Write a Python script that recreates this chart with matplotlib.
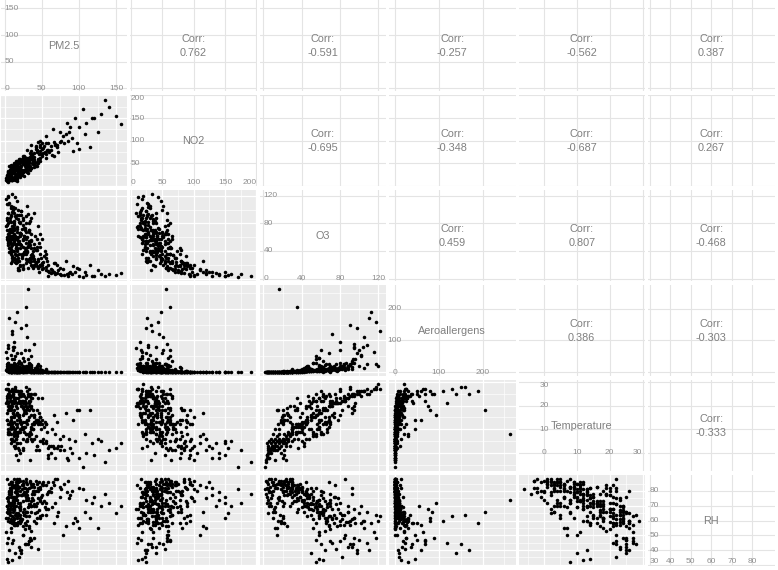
import matplotlib
matplotlib.use("Agg")
import matplotlib.pyplot as plt
import numpy as np

plt.rcParams['font.family'] = ['Liberation Sans', 'DejaVu Sans']

var_names = ["PM2.5", "NO2", "O3", "Aeroallergens", "Temperature", "RH"]

pm25 = [8, 5, 12, 15, 3, 10, 20, 6, 18, 9,
        25, 4, 13, 7, 22, 11, 16, 2, 28, 14,
        30, 8, 19, 5, 24, 10, 35, 6, 17, 12,
        40, 3, 21, 9, 27, 14, 7, 32, 16, 4,
        20, 30, 15, 25, 40, 12, 35, 18, 45, 22,
        28, 10, 50, 33, 16, 38, 24, 42, 14, 55,
        26, 19, 31, 47, 11, 36, 23, 52, 17, 29,
        44, 13, 37, 21, 58, 9, 34, 48, 27, 15,
        60, 80, 45, 100, 70, 35, 135, 55, 90, 150,
        40, 65, 120, 50, 75, 157, 30, 85, 58, 110,
        42, 95, 68, 125, 38, 78, 62, 105, 48, 72,
        33, 88, 56, 140, 46, 98, 82, 115, 66, 130,
        31, 28, 10, 15, 8, 20, 12, 18, 6, 25,
        5, 10, 14, 3, 20, 22, 18, 30, 26, 12,
        35, 16, 28, 9, 33, 14, 40, 21, 11, 27,
        19, 37, 7, 24, 45, 13, 31, 17, 23, 42,
        8, 29, 15, 36, 20, 50, 12, 26, 39, 6,
        34, 19, 48, 10, 25, 43, 16, 32, 53, 11,
        5, 8, 14, 4, 9, 18, 7, 13, 21, 3,
        64, 86, 76, 92, 58, 108, 70, 100, 118, 84,
        6, 15, 24, 10, 32, 4, 18, 28, 12, 38,
        9, 21, 44, 14, 26, 7, 34, 17, 3, 49,
        11, 23, 36, 8, 29, 15, 41, 5, 19, 52,
        13, 27, 10, 39, 20, 6, 33, 16, 46, 9,
        30, 12, 57, 22, 4, 35, 18, 25, 7, 43,
        14, 31, 54, 10, 20, 38, 8, 27, 62, 16,
        47, 3, 24, 11, 35, 19, 6, 29, 66, 13,
        40, 21, 9, 33, 17, 74, 5, 26, 45, 12,
        37, 22, 8, 50, 15, 28, 3, 42, 19, 11,
        68, 23, 7, 34, 16, 55, 10, 30, 2, 48]

no2 = [30, 12, 40, 18, 22, 45, 28, 26, 50, 14,
       58, 20, 15, 35, 24, 42, 10, 18, 32, 38,
       52, 28, 22, 8, 60, 34, 40, 24, 48, 16,
       58, 16, 50, 30, 32, 44, 25, 62, 20, 28,
       55, 42, 20, 62, 48, 40, 78, 25, 60, 54,
       38, 35, 95, 45, 48, 55, 60, 85, 18, 70,
       66, 28, 48, 90, 30, 62, 35, 72, 50, 40,
       80, 40, 50, 60, 78, 36, 72, 62, 52, 24,
       75, 95, 98, 130, 85, 90, 191, 110, 105, 155,
       58, 125, 150, 70, 120, 136, 80, 100, 80, 140,
       88, 150, 92, 120, 60, 110, 80, 170, 100, 75,
       50, 130, 95, 175, 70, 95, 115, 85, 65, 160,
       56, 62, 28, 55, 42, 38, 50, 32, 44, 66,
       25, 12, 40, 18, 22, 45, 38, 30, 50, 32,
       40, 42, 62, 28, 58, 12, 48, 45, 30, 55,
       42, 68, 24, 30, 50, 35, 62, 16, 58, 45,
       26, 48, 22, 60, 40, 82, 36, 22, 42, 20,
       64, 28, 78, 14, 48, 45, 40, 56, 88, 34,
       30, 40, 26, 32, 20, 56, 36, 48, 36, 24,
       68, 120, 100, 78, 95, 115, 90, 82, 150, 140,
       20, 38, 30, 45, 55, 15, 24, 62, 28, 48,
       35, 40, 76, 18, 58, 22, 44, 50, 10, 70,
       32, 26, 66, 40, 35, 46, 52, 25, 34, 84,
       20, 48, 14, 72, 42, 30, 38, 55, 60, 26,
       32, 48, 80, 24, 18, 68, 36, 62, 12, 50,
       42, 28, 74, 30, 20, 60, 22, 44, 88, 34,
       56, 14, 52, 16, 40, 60, 28, 46, 98, 38,
       64, 30, 46, 58, 22, 96, 20, 36, 54, 34,
       70, 26, 24, 66, 44, 40, 16, 82, 32, 28,
       90, 56, 18, 36, 26, 62, 36, 54, 12, 86]

o3 = [105, 118, 95, 88, 78, 72, 65, 110, 100, 92,
      85, 120, 80, 70, 98, 62, 75, 115, 90, 58,
      105, 68, 82, 95, 77, 122, 88, 60, 112, 74,
      95, 85, 66, 102, 70, 118, 55, 80, 92, 108,
      50, 40, 60, 35, 28, 55, 45, 30, 25, 65,
      38, 48, 20, 52, 42, 33, 58, 22, 36, 30,
      62, 26, 47, 18, 40, 55, 32, 24, 68, 28,
      42, 52, 35, 44, 20, 58, 30, 46, 60, 25,
      10, 5, 15, 4, 8, 20, 3, 12, 6, 5,
      18, 9, 4, 14, 7, 8, 25, 3, 11, 5,
      22, 10, 6, 12, 16, 14, 8, 2, 19, 12,
      28, 9, 17, 7, 10, 15, 25, 20, 22, 6,
      16, 35, 30, 22, 38, 18, 28, 12, 45, 14,
      55, 62, 50, 58, 64, 48, 55, 38, 62, 70,
      30, 58, 44, 82, 52, 90, 26, 66, 75, 40,
      50, 34, 88, 56, 28, 64, 46, 72, 36, 42,
      52, 58, 44, 64, 80, 22, 40, 74, 50, 62,
      24, 54, 36, 96, 46, 58, 34, 68, 32, 58,
      48, 36, 24, 56, 42, 16, 62, 30, 20, 70,
      12, 8, 5, 18, 4, 10, 20, 14, 4, 6,
      70, 45, 88, 32, 55, 95, 60, 22, 78, 40,
      50, 66, 18, 102, 36, 84, 48, 28, 108, 30,
      58, 72, 26, 42, 80, 34, 62, 64, 92, 16,
      55, 44, 76, 20, 50, 38, 70, 24, 52, 90,
      60, 30, 26, 98, 52, 34, 86, 16, 72, 46,
      62, 94, 40, 26, 82, 30, 46, 74, 14, 40,
      64, 60, 20, 100, 56, 12, 66, 52, 10, 84,
      44, 62, 22, 70, 50, 16, 80, 38, 76, 56,
      18, 92, 40, 58, 48, 68, 88, 24, 36, 104,
      22, 30, 58, 84, 44, 36, 68, 26, 76, 20]

aero = [12, 25, 80, 10, 5, 120, 8, 170, 20, 15,
        6, 20, 95, 8, 140, 4, 12, 65, 150, 3,
        110, 3, 10, 75, 2, 130, 16, 7, 190, 18,
        90, 14, 5, 55, 1, 160, 4, 70, 9, 85,
        10, 5, 20, 2, 1, 40, 15, 3, 0, 25,
        8, 12, 0, 30, 6, 2, 45, 1, 4, 10,
        35, 0, 18, 0, 9, 50, 3, 1, 60, 2,
        12, 28, 5, 15, 0, 22, 4, 20, 70, 1,
        0, 0, 1, 0, 0, 2, 0, 0, 0, 0,
        1, 0, 0, 0, 0, 0, 3, 0, 0, 0,
        2, 0, 0, 0, 1, 0, 0, 0, 1, 0,
        4, 0, 0, 0, 0, 0, 0, 0, 1, 0,
        262, 205, 0, 0, 1, 0, 0, 0, 2, 0,
        30, 15, 10, 45, 8, 3, 6, 2, 12, 9,
        1, 14, 4, 20, 7, 26, 0, 11, 5, 2,
        8, 3, 18, 10, 1, 6, 5, 16, 2, 4,
        3, 9, 4, 22, 30, 0, 2, 13, 7, 1,
        0, 8, 3, 42, 4, 19, 1, 24, 2, 7,
        2, 0, 0, 3, 1, 0, 5, 0, 0, 6,
        0, 0, 0, 1, 0, 0, 1, 0, 0, 0,
        4, 2, 18, 0, 8, 30, 6, 0, 12, 3,
        2, 10, 0, 50, 1, 16, 4, 0, 24, 1,
        6, 14, 0, 2, 20, 1, 12, 3, 36, 0,
        5, 3, 8, 0, 4, 0, 15, 0, 6, 22,
        9, 0, 0, 60, 2, 1, 28, 0, 5, 4,
        7, 40, 2, 0, 12, 1, 3, 16, 0, 1,
        10, 4, 0, 70, 7, 0, 6, 5, 0, 25,
        3, 8, 0, 18, 3, 0, 10, 2, 24, 4,
        0, 30, 1, 8, 3, 14, 20, 0, 1, 80,
        0, 1, 4, 26, 2, 2, 9, 0, 8, 0]

temp = [26, 27, 18, 23, 14, 21, 24, 25, 26, 19,
        22, 29, 16, 12, 25, 24, 21, 27, 28, 23,
        26, 11, 22, 20, 21, 27, 23, 26, 26, 15,
        25, 22, 9, 24, 20, 28, 22, 27, 17, 25,
        21, 5, 8, 19, 15, 22, 6, 9, 14, 12,
        21, 20, 12, 7, 4, 18, 10, 1, 2, 12,
        24, 16, 24, 13, 17, 25, 20, 6, 14, 8,
        3, 23, 23, 14, -2, 11, 9, 15, 22, 6,
        3, 1, 12, -2, 2, 16, -4, 4, 0, 2,
        13, 3, -1, 5, 1, 4, 19, -3, 2, 0,
        14, 5, -2, 6, 10, 7, 0, -6, 15, 3,
        20, 2, 5, 1, 1, 18, 17, 18, 16, 5,
        8, 18, 11, -1, 15, 0, 3, -3, 19, 1,
        8, 12, 10, 14, 13, 20, 16, 12, 18, 13,
        10, 17, 13, 18, 15, 27, 16, 10, 25, 11,
        15, 12, 20, 16, 13, 23, 14, 16, 11, 13,
        22, 17, 12, 19, 26, 14, 9, 17, 16, 8,
        -3, 15, 12, 21, 13, 18, 8, 25, 11, 17,
        10, 6, 3, 12, 8, 2, 19, 5, 4, 24,
        10, 6, 3, 14, -1, 8, 13, 18, 4, -2,
        20, 20, 25, 6, 18, 24, 9, 5, 21, 12,
        14, 13, 3, 26, 9, 23, 22, 7, 27, 10,
        11, 22, 8, 11, 23, 9, 25, 18, 25, 4,
        7, 13, 22, 6, 21, 9, 21, 4, 17, 24,
        14, 8, 9, 26, 9, 11, 23, 2, 20, 14,
        22, 25, 13, 5, 22, 10, 13, 21, 3, 11,
        15, 17, 6, 25, 20, 1, 18, 8, 2, 22,
        12, 24, 4, 22, 19, 6, 21, 11, 23, 10,
        5, 24, 10, 23, 6, 20, 23, 7, 9, 26,
        8, 10, 13, 24, 12, 12, 15, 6, 21, 5]

rh = [55, 48, 62, 70, 75, 45, 58, 40, 65, 82,
      50, 60, 72, 78, 38, 66, 84, 52, 44, 74,
      60, 86, 35, 68, 56, 63, 42, 80, 58, 76,
      48, 88, 62, 70, 54, 64, 82, 46, 78, 66,
      72, 80, 65, 84, 78, 58, 70, 86, 82, 60,
      76, 68, 85, 55, 74, 80, 50, 87, 79, 72,
      64, 83, 69, 81, 73, 47, 77, 84, 57, 88,
      66, 61, 75, 70, 79, 52, 86, 63, 44, 82,
      80, 85, 75, 82, 88, 70, 78, 84, 80, 65,
      60, 86, 76, 72, 83, 70, 77, 87, 68, 74,
      58, 62, 88, 55, 85, 50, 79, 81, 73, 66,
      82, 77, 64, 72, 86, 60, 56, 62, 58, 70,
      74, 66, 84, 80, 76, 87, 70, 82, 78, 85,
      32, 33, 38, 34, 40, 77, 72, 81, 68, 74,
      85, 63, 79, 61, 71, 57, 83, 69, 76, 82,
      64, 78, 59, 73, 80, 67, 75, 62, 84, 70,
      80, 66, 86, 53, 60, 77, 83, 64, 71, 79,
      87, 69, 74, 58, 78, 62, 82, 56, 73, 71,
      75, 81, 84, 68, 72, 86, 66, 88, 80, 70,
      69, 75, 81, 58, 86, 66, 63, 55, 72, 79,
      72, 80, 66, 84, 70, 62, 77, 86, 68, 74,
      82, 60, 85, 58, 79, 64, 71, 87, 45, 76,
      74, 61, 83, 78, 57, 81, 65, 73, 42, 86,
      69, 77, 71, 80, 68, 85, 63, 88, 67, 60,
      66, 83, 78, 40, 76, 73, 59, 87, 68, 72,
      75, 44, 69, 86, 64, 79, 81, 58, 82, 80,
      62, 70, 85, 47, 66, 88, 71, 74, 84, 57,
      70, 67, 86, 46, 78, 76, 65, 82, 41, 73,
      84, 61, 79, 64, 76, 63, 66, 80, 83, 60,
      72, 81, 70, 48, 77, 68, 72, 85, 62, 83]

series = [pm25, no2, o3, aero, temp, rh]

breaks = [[0, 50, 100, 150],
          [0, 50, 100, 150, 200],
          [0, 40, 80, 120],
          [0, 100, 200],
          [0, 10, 20, 30],
          [30, 40, 50, 60, 70, 80]]

corr_text = {(0, 1): "0.762", (0, 2): "-0.591", (0, 3): "-0.257", (0, 4): "-0.562", (0, 5): "0.387",
             (1, 2): "-0.695", (1, 3): "-0.348", (1, 4): "-0.687", (1, 5): "0.267",
             (2, 3): "0.459", (2, 4): "0.807", (2, 5): "-0.468",
             (3, 4): "0.386", (3, 5): "-0.303",
             (4, 5): "-0.333"}

W, H = 778, 570
fig = plt.figure(figsize=(W / 100, H / 100), dpi=100)
fig.patch.set_facecolor("white")

pw, ph = 126.5, 91.0
col_left = [0.5 + k * 129.5 for k in range(6)]
row_top = [0.5 + k * 94.9 for k in range(6)]

def limits(v):
    a, b = min(v), max(v)
    r = b - a
    return a - 0.05 * r, b + 0.05 * r

lims = [limits(s) for s in series]

def minor_of(br, lo, hi):
    step = br[1] - br[0]
    m = np.arange(br[0] - step / 2, br[-1] + step, step)
    return [x for x in m if lo <= x <= hi]

txt_col = "#7f7f7f"
tick_col = "#8f8f8f"

for i in range(6):
    for j in range(6):
        l = col_left[j]
        t = row_top[i]
        ax = fig.add_axes([l / W, 1 - (t + ph) / H, pw / W, ph / H])
        xlo, xhi = lims[j]
        ylo, yhi = lims[i]
        ax.set_xlim(xlo, xhi)
        ax.set_ylim(ylo, yhi)
        for sp in ax.spines.values():
            sp.set_visible(False)
        ax.set_xticks([b for b in breaks[j] if xlo <= b <= xhi])
        ax.set_yticks([b for b in breaks[i] if ylo <= b <= yhi])
        ax.tick_params(which="both", length=0, labelbottom=False, labelleft=False)
        ax.set_axisbelow(True)
        if i > j:
            ax.set_facecolor("#EBEBEB")
            ax.set_xticks(minor_of(breaks[j], xlo, xhi), minor=True)
            ax.set_yticks(minor_of(breaks[i], ylo, yhi), minor=True)
            ax.grid(True, which="major", color="white", lw=0.9)
            ax.grid(True, which="minor", color="white", lw=0.45)
            ax.scatter(series[j], series[i], s=6.5, c="black", linewidths=0)
        else:
            ax.set_facecolor("white")
            ax.grid(True, which="major", color="#E4E4E4", lw=0.8)
            if i == j:
                xr = xhi - xlo
                yr = yhi - ylo
                yb0 = [b for b in breaks[i] if ylo <= b <= yhi][0]
                xb0 = [b for b in breaks[j] if xlo <= b <= xhi][0]
                for b in breaks[j]:
                    if not (xlo <= b <= xhi):
                        continue
                    ha = "center"
                    if xhi - b < 0.04 * xr:
                        ha = "right"
                    elif b - xlo < 0.04 * xr:
                        ha = "left"
                    va = "center"
                    if yb0 - ylo < 0.03 * yr:
                        va = "bottom"
                    ax.text(b, yb0, str(b), ha=ha, va=va, fontsize=6.0, color=tick_col)
                for b in breaks[i][1:]:
                    if not (ylo <= b <= yhi):
                        continue
                    va = "center"
                    if yhi - b < 0.04 * yr:
                        va = "top"
                    ha = "center"
                    if xb0 - xlo < 0.04 * xr:
                        ha = "left"
                    ax.text(xb0, b, str(b), ha=ha, va=va, fontsize=6.0, color=tick_col)
                ax.text((xlo + xhi) / 2, (ylo + yhi) / 2, var_names[i], ha="center", va="center",
                        fontsize=7.8, color=txt_col)
            else:
                ax.text(0.5, 0.5, "Corr:\n" + corr_text[(i, j)], transform=ax.transAxes,
                        ha="center", va="center", fontsize=7.8, color=txt_col, linespacing=1.5)

fig.savefig("out.png", dpi=100, facecolor="white")
